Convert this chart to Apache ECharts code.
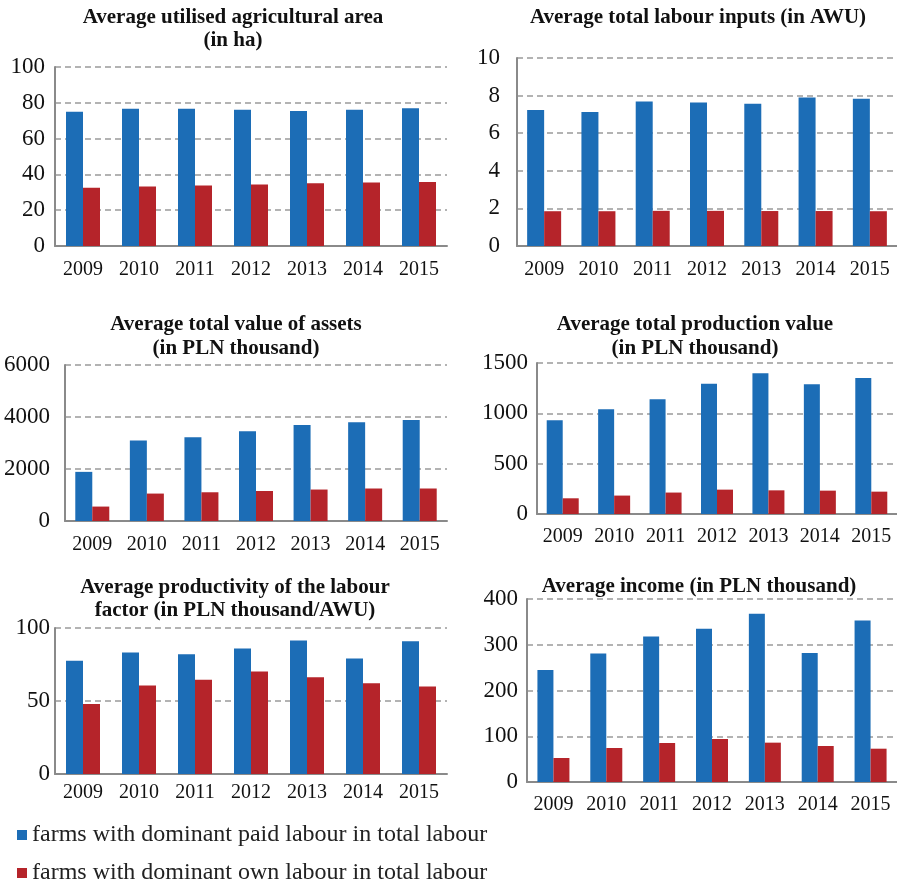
<!DOCTYPE html>
<html>
<head>
<meta charset="utf-8">
<style>html,body{margin:0;padding:0;background:#fff}#c{width:897px;height:884px}</style>
<script src="https://cdn.jsdelivr.net/npm/echarts@6/dist/echarts.min.js"></script>
</head>
<body>
<div id="c"></div>
<script>
var years = ['2009','2010','2011','2012','2013','2014','2015'];
var seriesNames = ['farms with dominant paid labour in total labour', 'farms with dominant own labour in total labour'];
var areaPaid = [75.0, 76.7, 76.7, 76.1, 75.4, 76.1, 76.9];
var areaOwn = [32.5, 33.2, 33.8, 34.4, 35.1, 35.5, 35.8];
var labourPaid = [7.24, 7.13, 7.68, 7.63, 7.56, 7.90, 7.83];
var labourOwn = [1.85, 1.85, 1.87, 1.87, 1.86, 1.86, 1.85];
var assetsPaid = [1890, 3100, 3225, 3455, 3690, 3800, 3880];
var assetsOwn = [555, 1055, 1105, 1155, 1210, 1250, 1250];
var prodPaid = [931, 1040, 1139, 1295, 1398, 1288, 1351];
var prodOwn = [156, 183, 213, 242, 235, 232, 222];
var productivityPaid = [77.6, 83.3, 82.1, 86.0, 91.5, 79.1, 91.0];
var productivityOwn = [48.0, 60.6, 64.5, 70.2, 66.3, 62.2, 59.9];
var incomePaid = [245, 281, 318, 335, 368, 282, 353];
var incomeOwn = [52.5, 74.3, 85.2, 94, 86, 78.7, 72.8];
var titles = [
  'Average utilised agricultural area\n(in ha)',
  'Average total labour inputs (in AWU)',
  'Average total value of assets\n(in PLN thousand)',
  'Average total production value\n(in PLN thousand)',
  'Average productivity of the labour\nfactor (in PLN thousand/AWU)',
  'Average income (in PLN thousand)'
];
var yMax = [100, 10, 6000, 1500, 100, 400];
var yStep = [20, 2, 2000, 500, 50, 100];

var panels = [
  {paid: areaPaid, own: areaOwn, grid: {left: 55, top: 67, width: 392, height: 179}, ym: 10, xm: 14, bw: 17, t: {x: 233, y: 6.5, lh: 23}},
  {paid: labourPaid, own: labourOwn, grid: {left: 517, top: 58, width: 382, height: 188}, ym: 17, xm: 14, bw: 17, t: {x: 698, y: 6, lh: 23}},
  {paid: assetsPaid, own: assetsOwn, grid: {left: 65, top: 365, width: 382, height: 156}, ym: 15, xm: 14, bw: 17, t: {x: 236, y: 313, lh: 24}},
  {paid: prodPaid, own: prodOwn, grid: {left: 537, top: 363, width: 365, height: 151}, ym: 9, xm: 13, bw: 16, t: {x: 695, y: 313, lh: 24}},
  {paid: productivityPaid, own: productivityOwn, grid: {left: 55, top: 628, width: 392, height: 146}, ym: 5, xm: 9, bw: 17, t: {x: 235, y: 576.5, lh: 23}},
  {paid: incomePaid, own: incomeOwn, grid: {left: 527, top: 599, width: 374, height: 183}, ym: 9, xm: 13, bw: 16, t: {x: 699, y: 575.5, lh: 23}}
];

var BLUE = '#1c6db6', RED = '#b5242a';
var serif = 'Liberation Serif';
var grids = [], xAxes = [], yAxes = [], series = [], graphics = [];
panels.forEach(function (p, i) {
  grids.push(Object.assign({containLabel: false}, p.grid));
  xAxes.push({
    type: 'category', gridIndex: i, data: years,
    axisTick: {show: false},
    axisLine: {lineStyle: {color: '#8a8a8a', width: 2}},
    axisLabel: {interval: 0, margin: p.xm, color: '#111', fontFamily: serif, fontSize: 20}
  });
  yAxes.push({
    type: 'value', gridIndex: i, min: 0, max: yMax[i], interval: yStep[i],
    axisTick: {show: false},
    axisLine: {show: true, lineStyle: {color: '#8a8a8a', width: 2}},
    axisLabel: {margin: p.ym, color: '#111', fontFamily: serif, fontSize: 23,
      formatter: function (v) { return String(v); }},
    splitLine: {lineStyle: {color: '#9a9a9a', width: 1.5, type: [6, 4]}}
  });
  series.push({
    type: 'bar', name: seriesNames[0], xAxisIndex: i, yAxisIndex: i, data: p.paid,
    barWidth: p.bw, barGap: '0%', itemStyle: {color: BLUE}, animation: false
  });
  series.push({
    type: 'bar', name: seriesNames[1], xAxisIndex: i, yAxisIndex: i, data: p.own,
    barWidth: p.bw, barGap: '0%', itemStyle: {color: RED}, animation: false
  });
  graphics.push({
    type: 'text', x: p.t.x, y: p.t.y, silent: true,
    style: {
      text: titles[i], align: 'center', verticalAlign: 'top',
      fontFamily: serif, fontWeight: 'bold', fontSize: 21, lineHeight: p.t.lh, fill: '#111'
    }
  });
});

var chart = echarts.init(document.getElementById('c'), null, {renderer: 'canvas'});
chart.setOption({
  animation: false,
  backgroundColor: '#fff',
  grid: grids,
  xAxis: xAxes,
  yAxis: yAxes,
  series: series,
  graphic: graphics,
  legend: [
    {data: [seriesNames[0]], left: 12, top: 817, icon: 'rect', itemWidth: 10, itemHeight: 10,
     textStyle: {fontFamily: serif, fontSize: 24, color: '#222', lineHeight: 26}},
    {data: [seriesNames[1]], left: 12, top: 855, icon: 'rect', itemWidth: 10, itemHeight: 10,
     textStyle: {fontFamily: serif, fontSize: 24, color: '#222', lineHeight: 26}}
  ]
});
</script>
</body>
</html>
